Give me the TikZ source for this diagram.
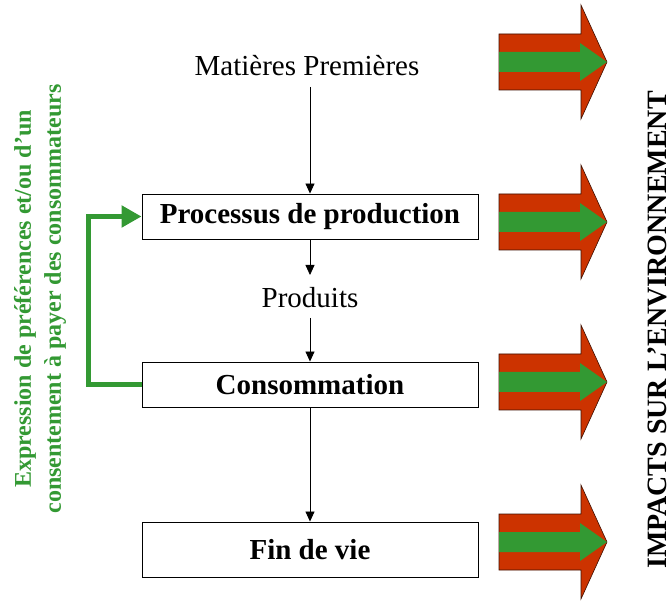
\documentclass[tikz,border=0pt]{standalone}
\usepackage{fontspec}
\setmainfont{Liberation Serif}
\usetikzlibrary{arrows.meta}
\definecolor{impactred}{RGB}{204,51,0}
\definecolor{leafgreen}{RGB}{51,153,51}
\tikzset{
  stage/.style={draw=black, line width=0.9pt, rectangle, minimum width=336pt,
    minimum height=45pt, inner sep=0pt, font=\fontsize{29}{34}\selectfont\bfseries},
  plain/.style={inner sep=0pt, font=\fontsize{29}{34}\selectfont},
  flow/.style={draw=black, line width=0.8pt, -{Triangle[length=10pt,width=9pt]}},
  feedback/.style={draw=leafgreen, line width=5pt,
    -{Triangle[length=20pt,width=21pt]}},
  impact/.pic={
    \path[fill=impactred, draw=black!70!impactred, line width=0.6pt]
      (0,-28) -- (82,-28) -- (82,-57) -- (108,0) -- (82,57) -- (82,28)
      -- (0,28) -- cycle;
    \path[fill=leafgreen]
      (0,-10) -- (81,-10) -- (81,-19) -- (108,0) -- (81,19) -- (81,10)
      -- (0,10) -- cycle;
  }
}
\begin{document}
\begin{tikzpicture}[x=1pt, y=-1pt]
  \useasboundingbox (0,0) rectangle (672,601);

  % life-cycle chain
  \node[plain] (mp) at (307,66) {Matières Premières};
  \node[stage] (prod) at (310,216.5) {Processus de production};
  \node[plain] (produits) at (310,298) {Produits};
  \node[stage] (conso) at (310,384.5) {Consommation};
  \node[stage, minimum height=55pt] (fin) at (310,549.5) {Fin de vie};

  \coordinate (mpout) at (310,87);
  \coordinate (pin) at (310,318);
  \coordinate (pout) at (310,275);
  \draw[flow] (mpout) -- (prod.north -| mpout);
  \draw[flow] (prod.south -| pout) -- (pout);
  \draw[flow] (pin) -- (conso.north -| pin);
  \draw[flow] (conso.south -| pin) -- (fin.north -| pin);

  % consumer feedback loop
  \coordinate (loopx) at (88,0);
  \draw[feedback] (conso.west) -- (conso.west -| loopx)
    -- (prod.west -| loopx) -- (prod.west);
  \node[rotate=90, align=center, text=leafgreen, inner sep=0pt,
        font=\fontsize{24}{30}\selectfont\bfseries] (pref) at (40,299)
    {Expression de préférences et/ou d’un\\consentement à payer des consommateurs};

  % environmental impacts
  \pic at (499,62) {impact};
  \pic at (499,222) {impact};
  \pic at (499,382) {impact};
  \pic at (499,542) {impact};
  \node[rotate=90, inner sep=0pt, font=\fontsize{28}{32}\selectfont\bfseries]
    (env) at (657,330) {IMPACTS SUR L’ENVIRONNEMENT};
\end{tikzpicture}
\end{document}
